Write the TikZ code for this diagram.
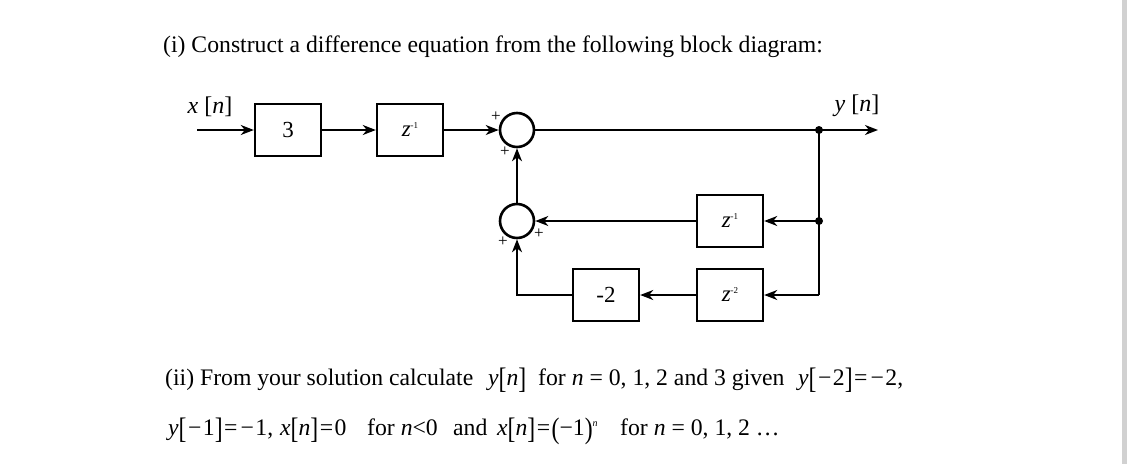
\documentclass[tikz,border=0pt]{standalone}
\usepackage{fontspec}
\setmainfont{Liberation Serif}
\usepackage{graphicx}
\usetikzlibrary{arrows.meta}
\newcommand\lbk{\raisebox{-3pt}{\scalebox{1}[1.25]{[}}}
\newcommand\rbk{\raisebox{-3pt}{\scalebox{1}[1.25]{]}}}
\newcommand\lpr{\raisebox{-3pt}{\scalebox{1}[1.25]{(}}}
\newcommand\rpr{\raisebox{-3pt}{\scalebox{1}[1.25]{)}}}
\newcommand\mn{\hspace{1.5pt}−\hspace{1.5pt}}
\newcommand\eq{\hspace{1.5pt}=\hspace{1.5pt}}
\newcommand\zinv[1]{\textit{z}\raisebox{8pt}{\fontsize{9}{9}\selectfont #1}}
\begin{document}
\begin{tikzpicture}[x=1pt,y=-1pt,
  blk/.style={draw, line width=2.4pt, minimum width=66pt, minimum height=52pt, inner sep=0pt, font=\fontsize{23}{25}\selectfont},
  sumc/.style={draw, circle, line width=2.6pt, minimum size=34pt, inner sep=0pt},
  wire/.style={line width=1.7pt},
  arr/.style={wire, -{Stealth[length=13pt,width=10pt,inset=4pt]}},
  jdot/.style={circle, fill, inner sep=0pt, minimum size=8pt},
  pl/.style={font=\fontsize{17}{17}\selectfont, inner sep=0pt},
  sig/.style={font=\fontsize{24}{26}\selectfont, inner sep=0pt},
  txt/.style={anchor=base west, inner sep=0pt, font=\fontsize{23.7}{28}\selectfont},
]
\useasboundingbox (0,0) rectangle (1127,464);
\fill[white] (0,0) rectangle (1127,464);
\fill[black!18] (1122,0) rectangle (1127,464);

% blocks
\node[blk] (b3) at (288,130) {3};
\node[blk] (bz1) at (410,130) {\zinv{-1}};
\node[blk] (bz1b) at (730,221) {\zinv{-1}};
\node[blk] (bz2) at (730,295) {\zinv{-2}};
\node[blk] (bm2) at (606,295) {-2};
\node[sumc] (s1) at (517,130) {};
\node[sumc] (s2) at (517,221) {};

% junctions
\node[jdot] (j1) at (819,130) {};
\node[jdot] (j2) at (819,221) {};
\coordinate (c3) at (819,295);
\coordinate (in) at (197,130);
\coordinate (out) at (878,130);

% signal labels
\node[sig] (xl) at (210,107) {\textit{x} [\textit{n}]};
\node[sig] (yl) at (857,106) {\textit{y} [\textit{n}]};

% plus signs
\node[pl] (p1) at (496,117) {+};
\node[pl] (p2) at (505,152) {+};
\node[pl] (p3) at (503,242) {+};
\node[pl] (p4) at (539,234) {+};

% connectors
\draw[arr] (in) -- (b3.west);
\draw[arr] (b3.east) -- (bz1.west);
\draw[arr] (bz1.east) -- (s1.west);
\draw[wire] (s1.east) -- (j1.center);
\draw[arr] (j1.center) -- (out);
\draw[wire] (j1.center) -- (c3);
\draw[arr] (j2.center) -- (bz1b.east);
\draw[arr] (bz1b.west) -- (s2.east);
\draw[arr] (c3) -- (bz2.east);
\draw[arr] (bz2.west) -- (bm2.east);
\draw[arr] (bm2.west) -| (s2.south);
\draw[arr] (s2.north) -- (s1.south);

% text
\node[txt] (t1) at (163,52) {(i) Construct a difference equation from the following block diagram:};
\node[txt] (t2a) at (165,385) {(ii) From your solution calculate};
\node[txt] (t2b) at (488,385) {\textit{y}\lbk\textit{n}\rbk};
\node[txt] (t2c) at (538,385) {for \textit{n} = 0, 1, 2 and 3 given};
\node[txt] (t2d) at (798,385) {\textit{y}\lbk\mn 2\rbk\eq\mn 2,};
\node[txt] (t3a) at (168,435) {\textit{y}\lbk\mn 1\rbk\eq\mn 1,};
\node[txt] (t3b) at (280,435) {\textit{x}\lbk\textit{n}\rbk\eq 0};
\node[txt] (t3c) at (367,435) {for \textit{n}<0};
\node[txt] (t3d) at (453,435) {and};
\node[txt] (t3e) at (497,435) {\textit{x}\lbk\textit{n}\rbk\eq\lpr−1\rpr\raisebox{9pt}{\fontsize{10}{10}\selectfont\textit{n}}};
\node[txt] (t3f) at (620,435) {for \textit{n} = 0, 1, 2 …};
\end{tikzpicture}
\end{document}
